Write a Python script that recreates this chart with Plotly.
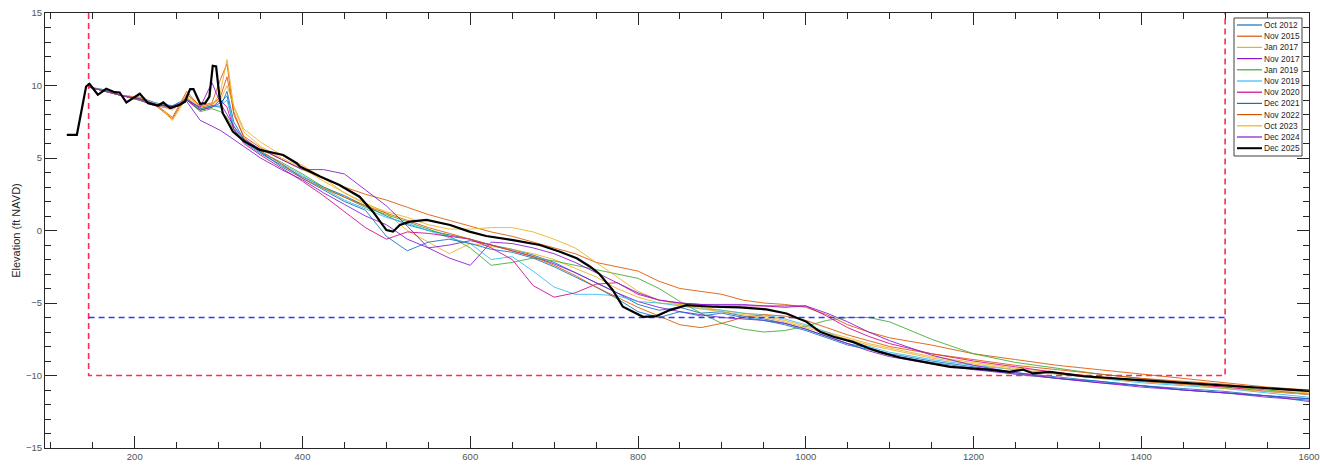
import plotly.graph_objects as go

# ---------------------------------------------------------------
# Beach profile surveys: elevation (ft NAVD) vs. cross-shore distance (ft)
# ---------------------------------------------------------------
station_ft = [145, 165, 185, 205, 225, 245, 262, 278, 292, 302, 310, 318, 330, 350, 375,
              400, 425, 450, 475, 500, 525, 550, 575, 600, 625, 650, 675, 700, 725, 750,
              775, 800, 825, 850, 875, 900, 925, 950, 975, 1000, 1025, 1050, 1075, 1100,
              1150, 1200, 1250, 1300, 1350, 1400, 1450, 1500, 1550, 1600]

elev_oct2012 = [9.9, 9.7, 9.3, 9.2, 8.8, 8.6, 9.0, 8.3, 8.5,
                8.8, 9.3, 7.0, 6.1, 5.3, 4.5, 3.7, 3.0, 2.4, 1.7, 1.0,
                0.4, 0.0, -0.3, -0.6, -1.0, -1.3, -1.7, -2.2, -2.9, -3.6,
                -4.3, -5.1, -5.5, -5.3, -5.7, -5.6, -5.9, -6.1, -6.4, -6.8,
                -7.3, -7.8, -8.1, -8.5, -9.0, -9.4, -9.8, -10.1, -10.4, -10.7,
                -10.9, -11.1, -11.4, -11.8]
elev_nov2015 = [9.9, 9.6, 9.3, 9.0, 8.6, 7.7, 9.4, 8.6, 8.8,
                10.4, 11.5, 8.0, 6.5, 5.7, 4.9, 4.2, 3.6, 3.0, 2.5, 2.1,
                1.6, 1.1, 0.7, 0.3, -0.1, -0.4, -0.8, -1.2, -1.6, -2.2,
                -2.5, -2.8, -3.5, -4.0, -4.2, -4.4, -4.8, -5.0, -5.1, -5.3,
                -5.8, -6.5, -7.0, -7.4, -7.9, -8.5, -8.9, -9.3, -9.6, -9.9,
                -10.2, -10.5, -10.8, -11.0]
elev_jan2017 = [9.9, 9.6, 9.3, 9.2, 8.7, 7.6, 9.2, 8.4, 8.6,
                9.5, 11.8, 8.5, 6.8, 5.8, 5.0, 4.3, 3.4, 2.6, 1.9, 1.2,
                0.0, -0.8, -1.6, -0.9, -1.1, -1.3, -1.6, -2.0, -2.6, -3.2,
                -4.0, -4.6, -5.0, -5.1, -5.3, -5.5, -5.7, -5.9, -6.2, -6.6,
                -7.0, -7.4, -7.8, -8.1, -8.7, -9.1, -9.5, -9.8, -10.1, -10.4,
                -10.6, -10.8, -11.0, -11.2]
elev_nov2017 = [9.9, 9.6, 9.3, 9.0, 8.6, 8.4, 8.9, 7.6, 7.2,
                6.9, 6.6, 6.3, 5.8, 5.0, 4.2, 3.5, 2.6, 1.8, 1.0, 0.4,
                -0.6, -1.2, -1.0, -0.7, -1.0, -1.4, -1.8, -2.3, -2.9, -3.6,
                -4.3, -4.9, -5.3, -5.6, -5.8, -6.0, -6.1, -6.2, -6.4, -6.8,
                -7.3, -7.8, -8.3, -8.7, -9.2, -9.6, -9.9, -10.2, -10.5, -10.7,
                -11.0, -11.2, -11.4, -11.6]
elev_jan2019 = [9.9, 9.6, 9.3, 9.0, 8.7, 8.5, 9.0, 8.2, 8.4,
                8.2, 7.8, 7.0, 6.2, 5.4, 4.7, 3.9, 3.0, 2.3, 1.6, 1.1,
                0.6, 0.1, -0.4, -1.2, -2.4, -2.2, -1.9, -2.1, -2.4, -2.7,
                -3.0, -3.3, -4.0, -4.9, -5.7, -6.4, -6.8, -7.0, -6.9, -6.6,
                -6.2, -6.0, -6.0, -6.3, -7.5, -8.5, -9.1, -9.5, -9.9, -10.2,
                -10.5, -10.7, -11.0, -11.3]
elev_nov2019 = [9.9, 9.6, 9.3, 9.1, 8.7, 8.5, 9.1, 8.3, 8.6,
                8.6, 9.0, 7.2, 6.1, 5.4, 4.6, 3.8, 2.9, 2.1, 1.5, 0.9,
                0.5, 0.0, -0.5, -0.9, -2.0, -1.8, -2.8, -3.9, -4.4, -4.4,
                -4.5, -4.9, -5.0, -5.2, -5.4, -5.5, -5.7, -5.8, -6.1, -6.5,
                -7.0, -7.6, -8.0, -8.4, -8.9, -9.3, -9.6, -9.9, -10.2, -10.5,
                -10.7, -10.9, -11.2, -11.5]
elev_nov2020 = [9.9, 9.6, 9.3, 9.1, 8.7, 8.5, 9.0, 8.3, 8.5,
                9.0, 8.5, 7.0, 6.0, 5.2, 4.3, 3.4, 2.4, 1.3, 0.2, -0.6,
                -0.1, -0.2, -0.4, -0.6, -1.2, -2.0, -3.8, -4.6, -4.3, -3.7,
                -3.6, -4.4, -4.8, -5.0, -5.1, -5.2, -5.2, -5.2, -5.3, -5.2,
                -5.9, -6.7, -7.3, -7.8, -8.5, -9.0, -9.4, -9.8, -10.1, -10.4,
                -10.6, -10.8, -11.1, -11.3]
elev_dec2021 = [9.9, 9.6, 9.3, 9.1, 8.7, 8.6, 9.1, 8.4, 8.6,
                8.5, 9.6, 7.5, 6.3, 5.4, 4.4, 3.6, 2.8, 2.0, 1.4, -0.4,
                -1.4, -0.8, -0.6, -0.9, -1.3, -1.5, -1.9, -2.5, -3.2, -3.9,
                -4.7, -5.6, -6.0, -5.6, -5.9, -5.7, -6.0, -6.2, -6.5, -6.9,
                -7.4, -7.9, -8.2, -8.6, -9.1, -9.5, -9.9, -10.2, -10.4, -10.7,
                -11.0, -11.2, -11.4, -11.6]
elev_nov2022 = [9.9, 9.6, 9.3, 9.1, 8.7, 7.8, 9.6, 8.5, 8.7,
                9.2, 10.6, 8.2, 6.4, 5.5, 4.6, 3.6, 2.9, 2.3, 1.7, 1.2,
                0.7, 0.2, -0.2, -0.6, -1.0, -1.4, -1.8, -2.4, -3.1, -3.9,
                -4.6, -5.3, -5.9, -6.5, -6.7, -6.4, -6.0, -5.8, -5.9, -6.2,
                -6.7, -7.2, -7.6, -8.0, -8.5, -8.9, -9.3, -9.6, -9.9, -10.2,
                -10.4, -10.6, -10.9, -11.1]
elev_oct2023 = [9.9, 9.6, 9.3, 9.2, 8.7, 8.3, 9.3, 8.5, 8.8,
                9.0, 10.0, 8.6, 7.0, 6.1, 5.2, 4.5, 3.6, 2.6, 1.8, 1.3,
                0.9, 0.4, 0.1, 0.1, 0.2, 0.2, -0.1, -0.6, -1.2, -2.2,
                -3.2, -4.2, -4.8, -5.1, -5.4, -5.6, -5.8, -6.0, -6.3, -6.7,
                -7.1, -7.5, -7.9, -8.2, -8.8, -9.2, -9.6, -9.9, -10.2, -10.4,
                -10.6, -10.9, -11.1, -11.3]
elev_dec2024 = [9.9, 9.6, 9.3, 9.1, 8.7, 8.5, 9.0, 8.5, 10.2,
                8.8, 8.0, 7.2, 6.3, 5.6, 4.9, 4.2, 4.2, 3.9, 2.8, 1.7,
                0.3, -1.2, -1.9, -2.4, -0.8, -0.9, -1.2, -1.6, -2.2, -2.9,
                -3.6, -4.3, -4.8, -5.0, -5.1, -5.1, -5.1, -5.2, -5.2, -5.2,
                -5.7, -6.3, -7.0, -7.6, -8.6, -9.3, -9.8, -10.2, -10.5, -10.8,
                -11.0, -11.2, -11.5, -11.7]

# Most recent survey, surveyed on its own station spacing
dist_dec2025 = [119, 131, 142, 146, 156, 166, 176, 182, 190, 196, 206, 216, 228, 234, 242,
                254, 260, 266, 270, 274, 278, 284, 289, 293, 297, 301, 305, 317, 331, 349,
                377, 393, 397, 421, 444, 468, 484, 500, 508, 516, 528, 548, 576, 599, 619,
                651, 683, 707, 727, 743, 754, 770, 782, 806, 822, 838, 858, 889, 921, 953,
                977, 1001, 1017, 1033, 1056, 1076, 1088, 1112, 1172, 1219, 1243, 1259, 1271,
                1291, 1331, 1390, 1450, 1529, 1600]
elev_dec2025 = [6.6, 6.6, 9.93, 10.12, 9.36, 9.77, 9.54, 9.52, 8.83, 9.06, 9.43, 8.78, 8.62,
                8.83, 8.44, 8.67, 8.90, 9.75, 9.75, 9.24, 8.74, 8.78, 9.24, 11.36, 11.31, 9.24,
                8.09, 6.82, 6.13, 5.56, 5.21, 4.64, 4.41, 3.72, 3.14, 2.33, 1.30, 0.03, -0.08,
                0.38, 0.61, 0.73, 0.38, -0.08, -0.38, -0.66, -1.0, -1.46, -1.92, -2.5, -3.0,
                -4.11, -5.26, -5.95, -5.9, -5.49, -5.15, -5.26, -5.3, -5.44, -5.72, -6.3,
                -6.99, -7.33, -7.68, -8.14, -8.37, -8.76, -9.41, -9.59, -9.75, -9.59, -9.86,
                -9.75, -10.05, -10.28, -10.51, -10.83, -11.06]

survey_labels = ["Oct 2012", "Nov 2015", "Jan 2017", "Nov 2017", "Jan 2019", "Nov 2019",
                 "Nov 2020", "Dec 2021", "Nov 2022", "Oct 2023", "Dec 2024", "Dec 2025"]
survey_elevs = [elev_oct2012, elev_nov2015, elev_jan2017, elev_nov2017, elev_jan2019,
                elev_nov2019, elev_nov2020, elev_dec2021, elev_nov2022, elev_oct2023,
                elev_dec2024]
survey_colors = ["#1171BE", "#DD5400", "#EDB120", "#8516D1", "#3BAA32", "#2FBEEF",
                 "#D1048B", "#1171BE", "#DD5400", "#EDB120", "#8516D1", "#000000"]

# Design template and depth of closure
template_x = [145, 1500]
template_floor = -10
template_top = 15
closure_depth = -6

x_range = [93, 1600]
y_range = [-15, 15]

# ---------------------------------------------------------------
W, H = 1320, 472
ML, MR, MT, MB = 45, 11, 13, 24
PW, PH = W - ML - MR, H - MT - MB
FONT = "Liberation Sans, Arial, sans-serif"


def paper(px, py):
    """Pixel position in the page -> paper coordinates."""
    return (px - ML) / PW, (H - MB - py) / PH


fig = go.Figure()

for label, elev, color in zip(survey_labels[:-1], survey_elevs, survey_colors[:-1]):
    fig.add_trace(go.Scatter(x=station_ft, y=elev, mode="lines", name=label,
                             line=dict(color=color, width=1), opacity=0.85,
                             showlegend=False, hoverinfo="skip"))

# Template box (red) and closure depth (blue)
fig.add_trace(go.Scatter(
    x=[template_x[0], template_x[0], template_x[1], template_x[1]],
    y=[template_top, template_floor, template_floor, template_top],
    mode="lines", line=dict(color="#FF2A55", width=1.6, dash="6px,4px"),
    showlegend=False, hoverinfo="skip"))
fig.add_trace(go.Scatter(
    x=template_x, y=[closure_depth, closure_depth],
    mode="lines", line=dict(color="#2A3CFF", width=1.6, dash="6px,4px"),
    showlegend=False, hoverinfo="skip"))

fig.add_trace(go.Scatter(x=dist_dec2025, y=elev_dec2025, mode="lines", name=survey_labels[-1],
                         line=dict(color=survey_colors[-1], width=2.2), showlegend=False,
                         hoverinfo="skip"))

# Legend drawn as a boxed key in the upper right corner
shapes = []
annotations = []
bx0, by0 = paper(1234, 18)
bx1, by1 = paper(1302, 156)
shapes.append(dict(type="rect", xref="paper", yref="paper", x0=bx0, y0=by1, x1=bx1, y1=by0,
                   line=dict(color="#404040", width=1), fillcolor="white", layer="above"))
for i, (label, color) in enumerate(zip(survey_labels, survey_colors)):
    row_y = 25 + 11.2 * i
    lx0, ly = paper(1237, row_y)
    lx1, _ = paper(1262, row_y)
    shapes.append(dict(type="line", xref="paper", yref="paper", x0=lx0, x1=lx1, y0=ly, y1=ly,
                       line=dict(color=color, width=2 if i == len(survey_labels) - 1 else 1.2),
                       layer="above"))
    tx, _ = paper(1263, row_y)
    annotations.append(dict(x=tx, y=ly, xref="paper", yref="paper", text=label,
                            showarrow=False, xanchor="left", yanchor="middle",
                            xshift=-1,
                            font=dict(family=FONT, size=8.3, color="#262626")))

axis_common = dict(showline=True, linecolor="#262626", linewidth=1, mirror="allticks",
                   ticks="inside", tickcolor="#262626", showgrid=False, zeroline=False,
                   automargin=False,
                   tickfont=dict(family=FONT, size=9.5, color="#555555"))

fig.update_layout(
    width=W, height=H,
    margin=dict(l=ML, r=MR, t=MT, b=MB, autoexpand=False),
    paper_bgcolor="white", plot_bgcolor="white",
    showlegend=False,
    shapes=shapes, annotations=annotations,
    xaxis=dict(range=x_range, tick0=0, dtick=200, ticklen=12,
               minor=dict(dtick=50, tick0=0, ticklen=6, ticks="inside", tickcolor="#262626"),
               **axis_common),
    yaxis=dict(range=y_range, tick0=0, dtick=5, ticklen=12,
               minor=dict(dtick=1, tick0=0, ticklen=6, ticks="inside", tickcolor="#262626"),
               title=dict(text="Elevation (ft NAVD)", standoff=3,
                          font=dict(family=FONT, size=11, color="#262626")),
               **axis_common),
)

fig.write_html("out.html")
